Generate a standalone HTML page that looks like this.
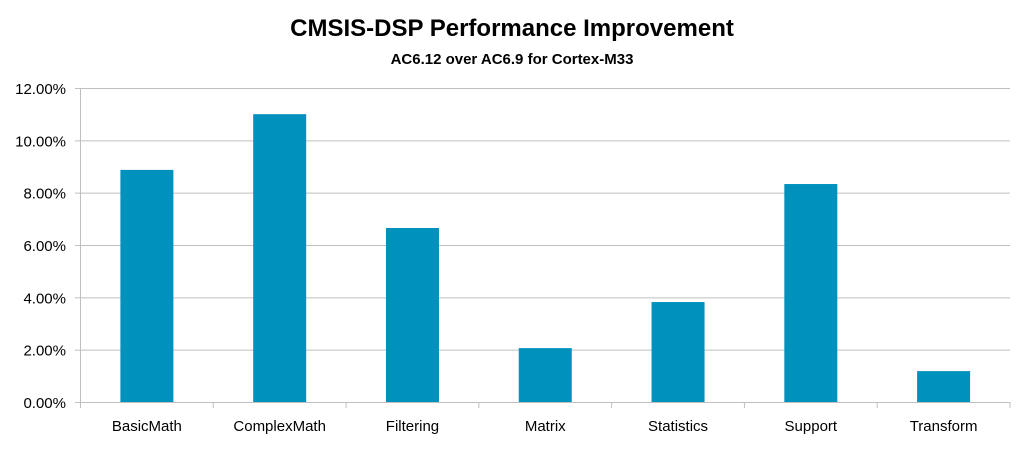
<!DOCTYPE html>
<html><head><meta charset="utf-8"><style>
body{margin:0;background:#fff;}
svg text{font-family:"Liberation Sans",sans-serif;fill:#000;}
</style></head><body>
<svg width="1024" height="445">
<text x="512" y="36" text-anchor="middle" font-size="24" font-weight="bold">CMSIS-DSP Performance Improvement</text>
<text x="512" y="64" text-anchor="middle" font-size="15" font-weight="bold">AC6.12 over AC6.9 for Cortex-M33</text>
<g id="grid"></g><g id="bars"></g><g id="axes"></g>
</svg>
<script>
const categories=["BasicMath","ComplexMath","Filtering","Matrix","Statistics","Support","Transform"];
const values=[8.87,11.0,6.65,2.06,3.82,8.33,1.18];
const yTicks=[0,2,4,6,8,10,12];
const yTickLabels=["0.00%","2.00%","4.00%","6.00%","8.00%","10.00%","12.00%"];
const ns="http://www.w3.org/2000/svg";
const X0=80.5,X1=1010,Y0=402,Y1=88,YMAX=12;
const y=v=>Y0-(v/YMAX)*(Y0-Y1);
const bw=(X1-X0)/categories.length;
const x=i=>X0+bw*i;
function mk(t,a,p){const e=document.createElementNS(ns,t);for(const k in a)e.setAttribute(k,a[k]);p.appendChild(e);return e;}
const grid=document.getElementById('grid'),bars=document.getElementById('bars'),axes=document.getElementById('axes');
yTicks.forEach((t,i)=>{
 const l=mk('line',{x1:75,x2:X1,y1:y(t)+.5,y2:y(t)+.5,stroke:'#bfbfbf','stroke-width':1},grid);
 
 
 const tx=mk('text',{x:66,y:y(t)+6,'text-anchor':'end','font-size':15},axes);
 tx.textContent=yTickLabels[i];
 
 
});
const ya=mk('line',{x1:X0,x2:X0,y1:Y1,y2:Y0+6,stroke:'#bfbfbf'},axes);


categories.forEach((c,i)=>{
 const bwid=53;
 const r=mk('rect',{x:x(i)+bw/2-bwid/2,y:y(values[i]),width:bwid,height:Y0-y(values[i]),fill:'#0091bd'},bars);
 
 
 const tk=mk('line',{x1:x(i+1),x2:x(i+1),y1:Y0,y2:Y0+6,stroke:'#bfbfbf'},axes);
 
 
 const tx=mk('text',{x:x(i)+bw/2,y:431,'text-anchor':'middle','font-size':15},axes);
 tx.textContent=c;
 
 
});
</script>
</body></html>
